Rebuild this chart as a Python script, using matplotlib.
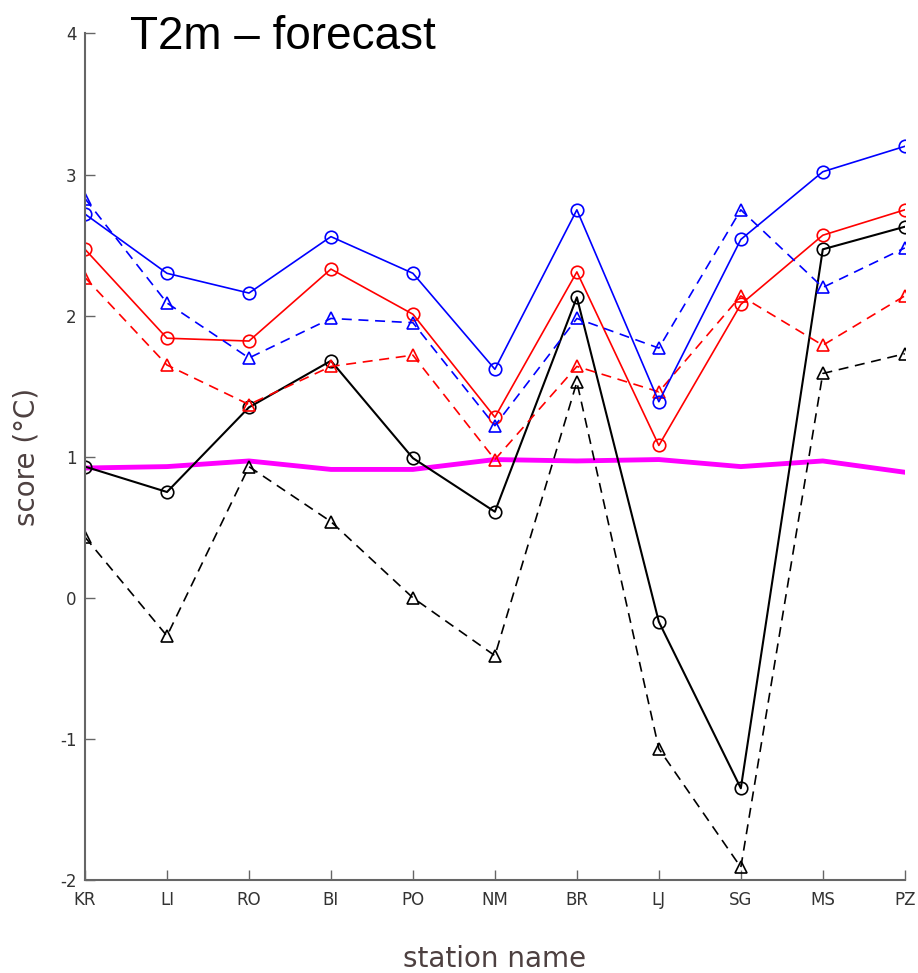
import matplotlib.pyplot as plt
import numpy as np

stations = ["KR", "LI", "RO", "BI", "PO", "NM", "BR", "LJ", "SG", "MS", "PZ"]

blue_solid = [2.72, 2.30, 2.16, 2.56, 2.30, 1.62, 2.75, 1.39, 2.54, 3.02, 3.20]
blue_dash = [2.83, 2.09, 1.70, 1.98, 1.95, 1.22, 1.98, 1.77, 2.75, 2.20, 2.48]
red_solid = [2.47, 1.84, 1.82, 2.33, 2.01, 1.28, 2.31, 1.08, 2.08, 2.57, 2.75]
red_dash = [2.27, 1.65, 1.37, 1.64, 1.72, 0.98, 1.64, 1.46, 2.14, 1.79, 2.14]
black_solid = [0.93, 0.75, 1.35, 1.68, 0.99, 0.61, 2.13, -0.17, -1.35, 2.47, 2.63]
black_dash = [0.43, -0.27, 0.93, 0.54, 0.00, -0.41, 1.53, -1.07, -1.91, 1.59, 1.73]
magenta = [0.92, 0.93, 0.97, 0.91, 0.91, 0.98, 0.97, 0.98, 0.93, 0.97, 0.89]

x = np.arange(len(stations))

fig = plt.figure(figsize=(9.18, 9.73), dpi=100)
ax = fig.add_axes([0.0926, 0.0956, 0.893, 0.870])

mk = dict(markersize=9, markerfacecolor="none", markeredgewidth=1.2)
ax.plot(x, magenta, color="#ff00ff", lw=3.5, zorder=1)
ax.plot(x, black_dash, color="black", ls=(0, (6, 4)), lw=1.2, marker="^", **mk)
ax.plot(x, black_solid, color="black", ls="-", lw=1.5, marker="o", **mk)
ax.plot(x, red_dash, color="#ff0000", ls=(0, (6, 4)), lw=1.2, marker="^", **mk)
ax.plot(x, red_solid, color="#ff0000", ls="-", lw=1.2, marker="o", **mk)
ax.plot(x, blue_dash, color="#0000ff", ls=(0, (6, 4)), lw=1.2, marker="^", **mk)
ax.plot(x, blue_solid, color="#0000ff", ls="-", lw=1.2, marker="o", **mk)

ax.set_xlim(0, 10)
ax.set_ylim(-2, 4)
ax.set_xticks(x)
ax.set_xticklabels(stations)
ax.set_yticks([-2, -1, 0, 1, 2, 3, 4])
ax.set_yticklabels(["-2", "-1", "0", "1", "2", "3", "4"])

for s in ["top", "right"]:
    ax.spines[s].set_visible(False)
for s in ["left", "bottom"]:
    ax.spines[s].set_color("#666666")
    ax.spines[s].set_linewidth(1.5)
ax.tick_params(direction="in", length=7, width=1, color="#666666",
               labelsize=12, labelcolor="#333333")
ax.tick_params(axis="x", pad=8)
ax.tick_params(axis="y", pad=6)

ax.set_xlabel("station name", fontsize=20, color="#4d4040", labelpad=26)
ax.set_ylabel("score (°C)", fontsize=20, color="#4d4040", labelpad=14)

fig.text(0.142, 0.962, "T2m – forecast", fontsize=33, family="Liberation Sans",
         ha="left", va="center")

fig.savefig("out.png", dpi=100)
